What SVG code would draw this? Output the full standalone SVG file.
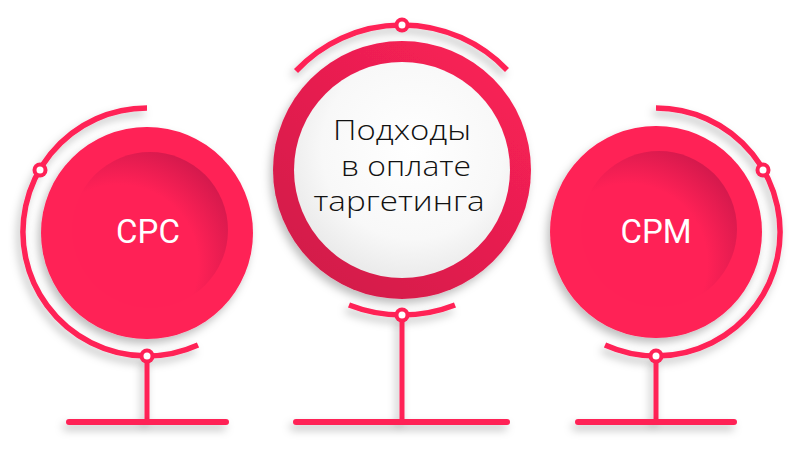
<svg xmlns="http://www.w3.org/2000/svg" width="803" height="466" viewBox="0 0 803 466">
<defs>
<filter id="sh" filterUnits="userSpaceOnUse" x="0" y="0" width="803" height="466">
<feDropShadow dx="-3" dy="5" stdDeviation="4" flood-color="#000" flood-opacity="0.25"/>
</filter>
<radialGradient id="inner" cx="0.3" cy="0.72" r="0.88">
<stop offset="0.58" stop-color="#ff2156"/>
<stop offset="1" stop-color="#c8174a"/>
</radialGradient>
<linearGradient id="ring" x1="0.85" y1="0.1" x2="0.15" y2="0.9">
<stop offset="0" stop-color="#f82155"/>
<stop offset="1" stop-color="#d31a4a"/>
</linearGradient>
<radialGradient id="disc" cx="0.55" cy="0.4" r="0.6">
<stop offset="0" stop-color="#ffffff"/>
<stop offset="0.7" stop-color="#f8f8f8"/>
<stop offset="1" stop-color="#ebebeb"/>
</radialGradient>
<style>
.ln{fill:none;stroke:#ff2156;stroke-width:5.5}
.st{fill:none;stroke:#ff2156;stroke-width:5}
.base{fill:none;stroke:#ff2156;stroke-width:6;stroke-linecap:round}
.dot{fill:#ff2156}
.hole{fill:#fff}
.red{fill:#ff2156}
.lbl{font-family:Roboto,"Liberation Sans",sans-serif;font-size:33px;fill:#fff;text-anchor:middle}
.ctr{font-family:"Open Sans","DejaVu Sans",sans-serif;font-weight:300;font-size:28px;fill:#111;text-anchor:middle}
</style>
</defs>

<g id="cpc">
<path class="ln" filter="url(#sh)" d="M147 108 A124 124 0 1 0 198 345"/>
<line class="st" x1="147" y1="356" x2="147" y2="421" filter="url(#sh)"/>
<line class="base" x1="69" y1="422" x2="226" y2="422" filter="url(#sh)"/>
<circle class="red" cx="147" cy="233" r="106" filter="url(#sh)"/>
<circle cx="150" cy="230" r="78" fill="url(#inner)"/>
<circle class="dot" cx="40" cy="170" r="7.5"/>
<circle class="hole" cx="40" cy="170" r="3.5"/>
<circle class="dot" cx="147" cy="356" r="7.5"/>
<circle class="hole" cx="147" cy="356" r="3.5"/>
<text class="lbl" x="148" y="243">CPC</text>
</g>

<g id="center">
<path class="ln" filter="url(#sh)" d="M296 71 A145 145 0 0 1 507 70"/>
<path class="ln" filter="url(#sh)" d="M349 305 A145 145 0 0 0 455 305"/>
<line class="st" x1="402" y1="315" x2="402" y2="421" filter="url(#sh)"/>
<line class="base" x1="296" y1="422" x2="507" y2="422" filter="url(#sh)"/>
<circle cx="402" cy="170" r="129" fill="url(#ring)" filter="url(#sh)"/>
<circle cx="402" cy="170" r="108" fill="url(#disc)"/>
<circle class="dot" cx="402" cy="25" r="7.5"/>
<circle class="hole" cx="402" cy="25" r="3.5"/>
<circle class="dot" cx="402" cy="315" r="7.5"/>
<circle class="hole" cx="402" cy="315" r="3.5"/>
<text class="ctr" x="402" y="140" textLength="138" lengthAdjust="spacingAndGlyphs">Подходы</text>
<text class="ctr" x="406" y="176" textLength="130" lengthAdjust="spacingAndGlyphs">в оплате</text>
<text class="ctr" x="399" y="211" textLength="171" lengthAdjust="spacingAndGlyphs">таргетинга</text>
</g>

<g id="cpm">
<path class="ln" filter="url(#sh)" d="M656 108 A124 124 0 1 1 605 345"/>
<line class="st" x1="656" y1="356" x2="656" y2="421" filter="url(#sh)"/>
<line class="base" x1="578" y1="422" x2="734" y2="422" filter="url(#sh)"/>
<circle class="red" cx="656" cy="232" r="106" filter="url(#sh)"/>
<circle cx="659" cy="229" r="78" fill="url(#inner)"/>
<circle class="dot" cx="763" cy="170" r="7.5"/>
<circle class="hole" cx="763" cy="170" r="3.5"/>
<circle class="dot" cx="656" cy="356" r="7.5"/>
<circle class="hole" cx="656" cy="356" r="3.5"/>
<text class="lbl" x="656" y="243">CPM</text>
</g>
</svg>
